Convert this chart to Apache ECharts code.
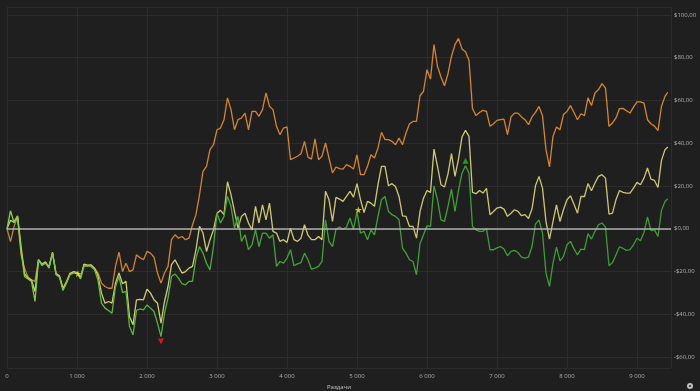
<!DOCTYPE html>
<html>
<head>
<meta charset="utf-8">
<script src="https://cdn.jsdelivr.net/npm/echarts@6/dist/echarts.min.js"></script>
<style>
html,body{margin:0;padding:0;background:#1f1f1f;}
#chart{width:700px;height:391px;}
</style>
</head>
<body>
<div id="chart"></div>
<script>
// Hands (x positions of the samples)
var hands = [
0,50,100,150,200,250,300,350,400,450,500,550,600,650,700,750,800,850,900,950,
1000,1050,1100,1150,1200,1250,1300,1350,1400,1450,1500,1550,1600,1650,1700,1750,1800,1850,1900,1950,
2000,2050,2100,2150,2200,2250,2300,2350,2400,2450,2500,2550,2600,2650,2700,2750,2800,2850,2900,2950,
3000,3050,3100,3150,3200,3250,3300,3350,3400,3450,3500,3550,3600,3650,3700,3750,3800,3850,3900,3950,
4000,4050,4100,4150,4200,4250,4300,4350,4400,4450,4500,4550,4600,4650,4700,4750,4800,4850,4900,4950,
5000,5050,5100,5150,5200,5250,5300,5350,5400,5450,5500,5550,5600,5650,5700,5750,5800,5850,5900,5950,
6000,6050,6100,6150,6200,6250,6300,6350,6400,6450,6500,6550,6600,6650,6700,6750,6800,6850,6900,6950,
7000,7050,7100,7150,7200,7250,7300,7350,7400,7450,7500,7550,7600,7650,7700,7750,7800,7850,7900,7950,
8000,8050,8100,8150,8200,8250,8300,8350,8400,8450,8500,8550,8600,8650,8700,8750,8800,8850,8900,8950,
9000,9050,9100,9150,9200,9250,9300,9350,9400,9440
];

// Orange line
var orangeVals = [
0,-6,1,5.5,-12,-18.4,-22.6,-23.9,-24.6,-14.5,-17.3,-16,-17.6,-11,-20.7,-22.3,-27.8,-24.6,-20.7,-20.4,
-20.4,-22.6,-16.8,-17.3,-16.8,-18.4,-20.7,-25.4,-27,-27.8,-27.8,-17.6,-10.9,-20,-16.1,-20,-19.2,-12.2,-13.5,-14.5,
-10.6,-11.4,-13.3,-20.7,-25.4,-20.7,-17.6,-5.1,-2.8,-4.4,-3.6,-5.1,-4.4,1.9,6.6,15.9,26.8,29.2,37,39.3,
46.3,47.1,51,61.2,55.7,46.3,51,51.8,54.1,46.3,54.9,54.9,52.6,55.7,63.5,57.3,55.7,47.9,44,47.1,
47.6,32.3,33.1,33.9,35.1,40.9,33.5,32.6,42,32.3,33.9,40.1,33.1,26.1,28.9,28.1,27.9,30,29.2,27.9,
34.6,25.3,25.3,29.2,34.6,33.1,37.8,45.1,41.7,41.7,40.9,39.3,42.4,39.3,44.8,49.1,50.2,50.2,62.2,64.3,
74.4,70,86.1,76,71,66.9,72.5,80.7,86.1,89,84.1,82.8,78.8,56.2,52.9,54.4,55.4,54.9,47.9,49.1,
50.7,51,51.3,44,52.3,54.1,54.1,52.3,51,48.7,52.3,54.4,57.2,52.9,37,28.9,43.2,47.6,46.3,53.4,
54.9,57.6,54.4,51,53.8,52.9,61.2,57.6,63.5,65.1,67.9,65.8,47.9,49.5,51.8,56.2,56.3,55.2,54.1,56.9,
59.3,59.3,58.8,51,49.1,48,45.9,57.3,61.9,63.8
];

// Yellow line
var yellowVals = [
0,4,3,6,-8,-21,-23,-24,-29.3,-14.5,-16.5,-15.5,-18,-11,-21,-22,-28,-25,-21,-20,
-20.5,-23,-16.5,-17,-17,-18.5,-22,-30.1,-34.8,-34,-34.8,-25.4,-20.7,-25.7,-24.6,-41,-44.9,-33.2,-33,-33.2,
-28.2,-30.1,-33.2,-34.8,-44.1,-34,-27,-16.8,-14.5,-17.6,-20.7,-20,-18.4,-17.6,-9.8,1.1,-2,-10.6,-5.1,-0.5,
7.3,8.6,6.6,22,16,8.1,0.3,5.8,7.3,2.7,-0.5,10.5,2.7,11.2,4.2,12,-1.2,-2,-5.9,-5.1,
-6.4,0.3,-5.1,-5.9,-4.4,1.9,-3,-5.1,-5.1,-3.6,-5.1,17.5,13.6,3.4,14.7,13.9,12.8,15.1,17.5,14.8,
21.1,13.6,7.6,12.8,12,10.5,20.6,29.2,29.2,20.1,21.1,19.8,15.1,6,5.8,1.1,1.1,-4.4,8,14.3,
17.9,17,37.3,29.2,20.6,19.5,25.7,35.1,24.5,32.6,42.9,46,43.2,17,16.4,17.9,16.7,18.9,6.6,8.1,
9.7,10.1,9.2,5.8,7.3,8.9,8.1,6.1,6.6,4.8,9.2,20.1,24.5,19,3.4,-4.8,3.4,11.2,3.4,8.9,
13.6,15.4,11.5,7.3,15.1,15.1,21.1,17.8,21.4,24.5,25.3,23.7,6.9,7.3,13.6,17.9,17,16.7,16.7,19,
21.7,20.6,23.7,28.4,23.2,22.6,19.3,32,37,38.2
];

// Green line
var greenVals = [
0,8.4,3,6,-9.8,-22.3,-23.5,-24.6,-34,-14.5,-16.8,-16,-18.4,-11.4,-21.5,-22.6,-28.9,-25.4,-21.5,-20.7,
-20.7,-23.5,-17.6,-17.3,-17.6,-19.2,-24,-34.8,-37.1,-38.2,-39.5,-27,-22.3,-29.8,-29.3,-45.7,-49.6,-38.2,-37.5,-37.9,
-35.6,-37.1,-38.7,-44.1,-50.4,-39.5,-32.4,-22.3,-21.1,-23.1,-25.7,-26.2,-24.6,-24.6,-13.7,-8.3,-11.4,-16.1,-19.2,-8.3,
7.3,2.7,5.8,15.1,10.5,0.3,5.8,-5.9,-2.8,-9.8,-7.5,-0.5,-8.3,-2,-2,-4.4,-2.8,-17.6,-15.3,-16.1,
-13.7,-9.8,-17.3,-16.4,-15.8,-11.4,-14.5,-18.9,-18.4,-17.6,-15.3,4.2,-5.9,-8.3,-0.2,0.8,-0.2,0.8,5,-0.2,
8,-2,-1.2,-5.1,-0.5,-2.8,5.8,13.6,15.1,8.1,6.6,5.8,4.2,-9,-11.4,-14.5,-15.3,-21.5,-7,-2.8,
1.4,1.1,20.1,13.6,4.2,3.4,10.5,18.6,8.1,17.9,26,29.5,26,1.1,-0.5,-1.2,-1.2,0,-9.8,-9.8,
-8.9,-8.3,-9.5,-12.6,-10.6,-10.1,-11.1,-13.3,-13.7,-13.3,-8.3,2.2,4.2,-2,-20.7,-27,-16.1,-8.6,-15,-12.9,
-7.5,-5.9,-9.4,-12.2,-9.5,-9.8,-2.3,-4.8,-1.2,1.9,2.7,0.8,-17.3,-15.8,-12.2,-8.4,-9.2,-10.1,-9.8,-7.5,
-4.4,-5.6,-1.7,5.5,-0.9,-0.5,-3.6,8.6,12.8,14
];

// Star markers
var starHands = [1014, 5019];
var starVals = [-21, 8.9];

// Axis texts
var xAxisName = 'Раздачи';
var yAxisName = 'Выигрыш';

function pairs(xs, ys){ return xs.map(function(x,i){ return [x, ys[i]]; }); }
function fmtHands(v){ if (v === 0) return '0'; var s = String(Math.round(v)); return s.replace(/\B(?=(\d{3})+(?!\d))/g, ' '); }
function fmtMoney(v){ var a = Math.abs(v).toFixed(2).replace('.', ','); return (v < 0 ? '-$' : '$') + a; }

var G = echarts.graphic.LinearGradient;
var chart = echarts.init(document.getElementById('chart'), null, {renderer: 'canvas'});
var fontFam = '"Open Sans", "DejaVu Sans", sans-serif';

chart.setOption({
  backgroundColor: '#1f1f1f',
  animation: false,
  grid: {left: 7, right: 29, top: 7, bottom: 23, containLabel: false, outerBoundsMode: 'none'},
  xAxis: {
    type: 'value', min: 0, max: 9486, interval: 1000,
    name: xAxisName, nameLocation: 'middle', nameGap: 16,
    nameTextStyle: {color: '#c8c8c8', fontSize: 6, fontFamily: fontFam},
    axisLine: {show: true, lineStyle: {color: '#2c2c2c'}},
    axisTick: {show: false},
    axisLabel: {color: '#b0b0b0', fontSize: 6, fontFamily: fontFam, margin: 5, showMaxLabel: false, formatter: fmtHands},
    splitLine: {show: true, lineStyle: {color: '#2c2c2c', width: 1}}
  },
  yAxis: {
    type: 'value', position: 'right', min: -65.1, max: 103.7, splitNumber: 8,
    name: yAxisName, nameLocation: 'middle', nameGap: 20, nameRotate: 90,
    nameTextStyle: {color: '#c8c8c8', fontSize: 6, fontFamily: fontFam},
    axisLine: {show: true, lineStyle: {color: '#2c2c2c'}},
    axisTick: {show: false},
    axisLabel: {color: '#b0b0b0', fontSize: 6, fontFamily: fontFam, margin: 3, showMinLabel: false, showMaxLabel: false, formatter: fmtMoney},
    splitLine: {show: true, lineStyle: {color: '#2c2c2c', width: 1}}
  },
  series: [
    {
      type: 'line', name: 'orange', data: pairs(hands, orangeVals), showSymbol: false, symbol: 'none',
      lineStyle: {width: 1.3, color: new G(0,0,1,0,[{offset:0,color:'#c0843a'},{offset:0.18,color:'#d4822f'},{offset:1,color:'#d68531'}])},
      z: 2
    },
    {
      type: 'line', name: 'yellow', data: pairs(hands, yellowVals), showSymbol: false, symbol: 'none',
      lineStyle: {width: 1.3, color: new G(0,0,1,0,[{offset:0,color:'#bcd860'},{offset:0.2,color:'#cfcc72'},{offset:1,color:'#ccc573'}])},
      z: 3
    },
    {
      type: 'line', name: 'green', data: pairs(hands, greenVals), showSymbol: false, symbol: 'none',
      lineStyle: {width: 1.3, color: new G(0,0,1,0,[{offset:0,color:'#86d44a'},{offset:0.18,color:'#5cb63c'},{offset:0.4,color:'#42a236'},{offset:1,color:'#3a9a35'}])},
      z: 4,
      markLine: {
        silent: true, symbol: 'none', label: {show: false},
        lineStyle: {color: 'rgba(185,185,185,0.7)', width: 1.8, type: 'solid'},
        data: [{yAxis: 0}]
      },
      markPoint: {
        silent: true, label: {show: false},
        data: [
          {type: 'max', symbol: 'triangle', symbolSize: 6, symbolOffset: [0, -5], itemStyle: {color: '#1e9a22'}},
          {type: 'min', symbol: 'triangle', symbolRotate: 180, symbolSize: 6, symbolOffset: [0, 5], itemStyle: {color: '#e01515'}}
        ]
      }
    },
    {
      type: 'scatter', name: 'stars', data: pairs(starHands, starVals), symbol: 'path://M50,0 L61,35 L98,35 L68,57 L79,91 L50,70 L21,91 L32,57 L2,35 L39,35 Z',
      symbolSize: 7, itemStyle: {color: '#ffee10'}, z: 6
    }
  ],
  graphic: [
    {type: 'circle', right: 7, bottom: 2, shape: {r: 3}, style: {fill: '#c0c0c0'}},
    {type: 'circle', right: 9, bottom: 4, shape: {r: 1}, style: {fill: '#1f1f1f'}}
  ]
});
</script>
</body>
</html>
